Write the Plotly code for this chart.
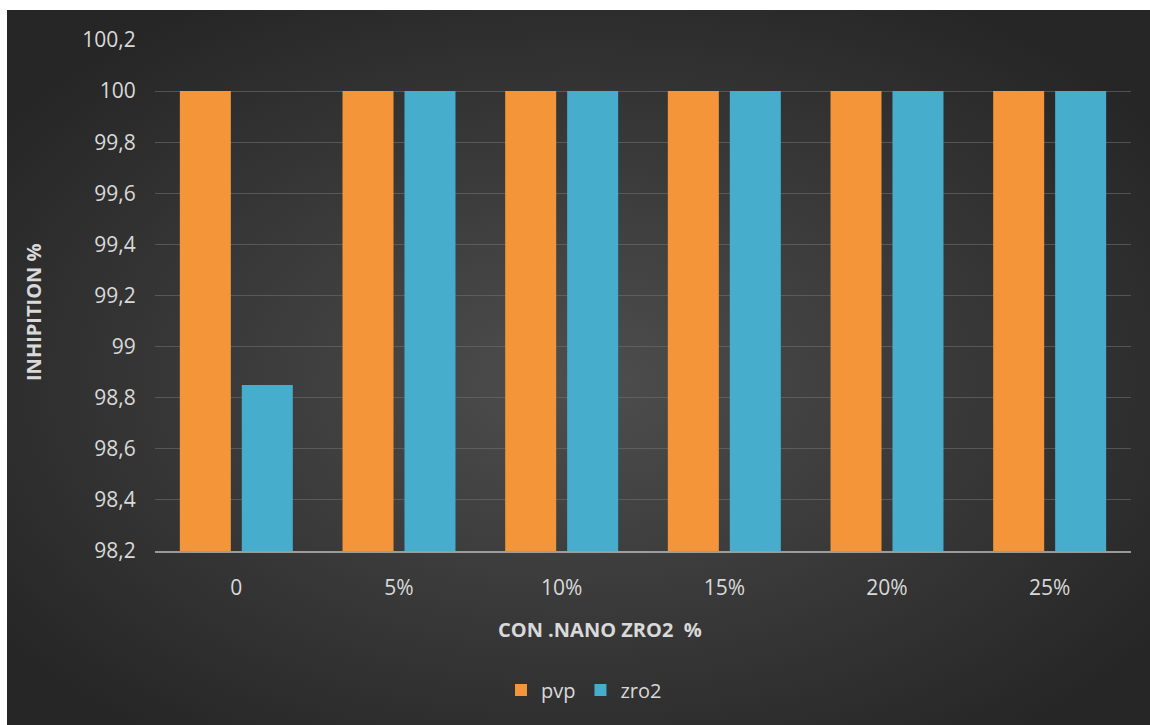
import base64
import plotly.graph_objects as go

categories = ["0", "5%", "10%", "15%", "20%", "25%"]
pvp = [100, 100, 100, 100, 100, 100]
zro2 = [98.85, 100, 100, 100, 100, 100]
y_tickvals = [98.2, 98.4, 98.6, 98.8, 99.0, 99.2, 99.4, 99.6, 99.8, 100.0, 100.2]
y_ticktext = ["98,2", "98,4", "98,6", "98,8", "99", "99,2", "99,4", "99,6", "99,8", "100", "100,2"]

W, H = 1150, 725
L, R, T, B = 155, 19, 40, 174
pw, ph = W - L - R, H - T - B

svg = (
    '<svg xmlns="http://www.w3.org/2000/svg" width="1143" height="715" viewBox="0 0 1143 715" preserveAspectRatio="none">'
    '<defs><radialGradient id="g" cx="50%" cy="52%" r="62%">'
    '<stop offset="0%" stop-color="#4e4e4e"/><stop offset="100%" stop-color="#262626"/>'
    '</radialGradient></defs><rect width="1143" height="715" fill="url(#g)"/></svg>'
)
src = "data:image/svg+xml;base64," + base64.b64encode(svg.encode()).decode()

def px_x(p):
    return (p - L) / pw

def px_y(p):
    return (T + ph - p) / ph

font = "Open Sans"
txt = "#d9d9d9"

fig = go.Figure()
fig.add_trace(go.Bar(x=categories, y=pvp, name="pvp", marker=dict(color="#f39538", line=dict(width=0))))
fig.add_trace(go.Bar(x=categories, y=zro2, name="zro2", marker=dict(color="#46adcc", line=dict(width=0))))

fig.update_layout(
    width=W, height=H,
    margin=dict(l=L, r=R, t=T, b=B),
    paper_bgcolor="white",
    plot_bgcolor="rgba(0,0,0,0)",
    barmode="group",
    bargap=0.238,
    bargroupgap=0.177,
    font=dict(family=font, color=txt, size=21),
    images=[dict(source=src, xref="paper", yref="paper", x=px_x(7), y=px_y(10),
                 sizex=(W - 7) / pw, sizey=(H - 10) / ph, sizing="stretch",
                 xanchor="left", yanchor="top", layer="below")],
    showlegend=True,
    legend=dict(orientation="h", x=px_x(584), xanchor="center", y=px_y(690), yanchor="middle",
                font=dict(size=20, color=txt), bgcolor="rgba(0,0,0,0)", itemwidth=30,
                traceorder="normal"),
    xaxis=dict(showgrid=False, showline=True, linecolor="rgba(190,190,190,0.75)", linewidth=2,
               ticks="outside", ticklen=17, tickcolor="rgba(0,0,0,0)",
               tickfont=dict(size=21, color=txt), zeroline=False),
    yaxis=dict(range=[98.2, 100.2], tickvals=y_tickvals, ticktext=y_ticktext,
               showgrid=True, gridcolor="rgba(110,110,110,0.6)", gridwidth=1,
               zeroline=False, showline=False,
               ticks="outside", ticklen=14, tickcolor="rgba(0,0,0,0)",
               tickfont=dict(size=21, color=txt)),
    annotations=[
        dict(text="<b>INHIPITION %</b>", xref="paper", yref="paper", x=px_x(33), y=px_y(312),
             textangle=-90, showarrow=False, font=dict(size=20, color=txt, family=font),
             xanchor="center", yanchor="middle"),
        dict(text="<b>CON .NANO ZRO2  %</b>", xref="paper", yref="paper", x=px_x(600), y=px_y(629),
             showarrow=False, font=dict(size=20, color=txt, family=font),
             xanchor="center", yanchor="middle"),
    ],
)

fig.write_html("out.html")
